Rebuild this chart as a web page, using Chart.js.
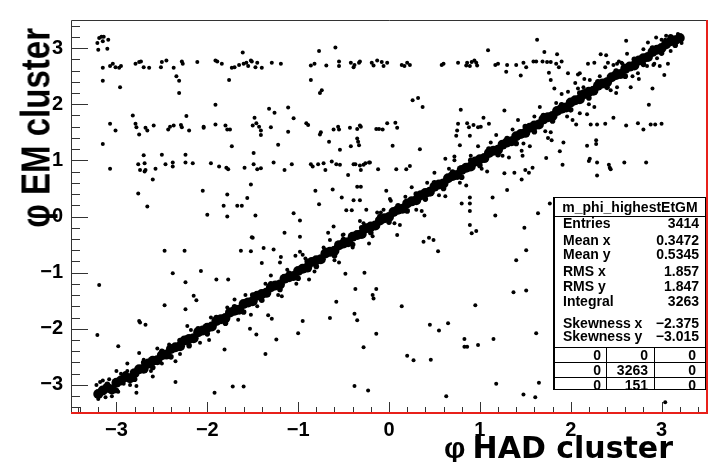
<!DOCTYPE html>
<html>
<head>
<meta charset="utf-8">
<script src="https://cdn.jsdelivr.net/npm/chart.js@4.4.0/dist/chart.umd.min.js"></script>
<style>
  html, body { margin: 0; padding: 0; background: #fff; }
  #wrap { position: relative; width: 712px; height: 462px; overflow: hidden; }
  #c { position: absolute; left: 0; top: 0; }
  .ttl { position: absolute; white-space: nowrap; color: #000; }
  #ytitle { left: 0; top: 0; width: 210px; text-align: right; font: bold 33px "Liberation Sans", Arial, sans-serif;
            line-height: 33px; transform-origin: 0 0; transform: translate(14px, 238px) rotate(-90deg) scaleY(1.25); }
  #xtitle { right: 39px; top: 433px; font: bold 30px "DejaVu Sans", sans-serif; line-height: 30px; }
  #xtitle .phi { font-family: "Liberation Sans", Arial, sans-serif; margin-right: 7px; }
  #stats { position: absolute; left: 553px; top: 197px; width: 150px; height: 191px; background: #fff;
           border: 1px solid #000; border-left-width: 2px; font: bold 14px "Liberation Sans", Arial, sans-serif; color: #000; }
  #stats div { position: absolute; height: 16px; line-height: 16px; white-space: nowrap; }
  #stats .hl { height: 0; border-top: 1px solid #000; left: 0; right: 0; }
  #stats .vl { width: 0; border-left: 1px solid #000; height: auto; }
</style>
</head>
<body>
<div id="wrap">
  <canvas id="c" width="712" height="462"></canvas>
  <div id="ytitle" class="ttl">φ EM cluster</div>
  <div id="xtitle" class="ttl"><span class="phi">φ</span>HAD cluster</div>
  <div id="stats"></div>
</div>
<script>
// axis ticks
const xTicks = [-3, -2, -1, 0, 1, 2, 3];
const yTicks = [-3, -2, -1, 0, 1, 2, 3];

// stats box contents
const statsTitle = 'm_phi_highestEtGM';
const statLabels = ['Entries', 'Mean x', 'Mean y', 'RMS x', 'RMS y', 'Integral', 'Skewness x', 'Skewness y'];
const statValues = ['3414', '0.3472', '0.5345', '1.857', '1.847', '3263', '\u22122.375', '\u22123.015'];
const statRowsY = [25, 42, 56, 73, 88, 103, 125, 138];
const tableRows = [['0', '0', '0'], ['0', '3263', '0'], ['0', '151', '0']];

// main diagonal band (phi_EM ~ phi_HAD)
const bandCore = [
  [-3.20,-3.16],[-3.15,-3.10],[-3.10,-3.05],[-3.05,-3.08],[-3.00,-2.96],[-2.95,-2.92],[-2.90,-2.86],[-2.85,-2.88],
  [-2.80,-2.79],[-2.75,-2.72],[-2.70,-2.71],[-2.65,-2.62],[-2.60,-2.57],[-2.55,-2.56],[-2.50,-2.47],[-2.45,-2.46],
  [-2.40,-2.36],[-2.35,-2.33],[-2.30,-2.31],[-2.25,-2.21],[-2.20,-2.18],[-2.15,-2.17],[-2.10,-2.06],[-2.05,-2.03],
  [-2.00,-1.98],[-1.95,-1.96],[-1.90,-1.86],[-1.85,-1.83],[-1.80,-1.81],[-1.75,-1.71],[-1.70,-1.68],[-1.65,-1.66],
  [-1.60,-1.56],[-1.55,-1.53],[-1.50,-1.51],[-1.45,-1.41],[-1.40,-1.38],[-1.35,-1.36],[-1.30,-1.26],[-1.25,-1.23],
  [-1.20,-1.21],[-1.15,-1.11],[-1.10,-1.08],[-1.05,-1.06],[-1.00,-0.97],[-0.95,-0.93],[-0.90,-0.91],[-0.85,-0.81],
  [-0.80,-0.78],[-0.75,-0.76],[-0.70,-0.66],[-0.65,-0.63],[-0.60,-0.61],[-0.55,-0.51],[-0.50,-0.48],[-0.45,-0.46],
  [-0.40,-0.36],[-0.35,-0.33],[-0.30,-0.31],[-0.25,-0.21],[-0.20,-0.18],[-0.15,-0.16],[-0.10,-0.07],[-0.05,-0.03],
  [0.00,-0.01],[0.05,0.08],[0.10,0.12],[0.15,0.14],[0.20,0.23],[0.25,0.27],[0.30,0.29],[0.35,0.38],
  [0.40,0.42],[0.45,0.44],[0.50,0.53],[0.55,0.57],[0.60,0.59],[0.65,0.68],[0.70,0.72],[0.75,0.74],
  [0.80,0.83],[0.85,0.87],[0.90,0.89],[0.95,0.98],[1.00,1.02],[1.05,1.04],[1.10,1.13],[1.15,1.17],
  [1.20,1.19],[1.25,1.28],[1.30,1.32],[1.35,1.34],[1.40,1.43],[1.45,1.47],[1.50,1.49],[1.55,1.58],
  [1.60,1.62],[1.65,1.64],[1.70,1.73],[1.75,1.77],[1.80,1.79],[1.85,1.88],[1.90,1.92],[1.95,1.94],
  [2.00,2.03],[2.05,2.07],[2.10,2.09],[2.15,2.18],[2.20,2.22],[2.25,2.24],[2.30,2.33],[2.35,2.37],
  [2.40,2.39],[2.45,2.48],[2.50,2.52],[2.55,2.54],[2.60,2.63],[2.65,2.67],[2.70,2.69],[2.75,2.78],
  [2.80,2.82],[2.85,2.84],[2.90,2.93],[2.95,2.97],[3.00,3.00],[3.05,3.07],[3.10,3.12],[3.15,3.14],[3.20,3.18]
];
const bandEdge = [
  [-3.10,-2.99],[-3.00,-3.10],[-2.90,-2.80],[-2.80,-2.90],[-2.70,-2.60],[-2.60,-2.69],[-2.50,-2.40],[-2.40,-2.50],
  [-2.30,-2.21],[-2.20,-2.30],[-2.10,-2.00],[-2.00,-2.09],[-1.90,-1.80],[-1.80,-1.90],[-1.70,-1.61],[-1.60,-1.70],
  [-1.50,-1.40],[-1.40,-1.49],[-1.30,-1.20],[-1.20,-1.30],[-1.10,-1.01],[-1.00,-1.10],[-0.90,-0.80],[-0.80,-0.89],
  [-0.70,-0.60],[-0.60,-0.70],[-0.50,-0.41],[-0.40,-0.50],[-0.30,-0.20],[-0.20,-0.29],[-0.10,0.00],[0.00,-0.10],
  [0.10,0.19],[0.20,0.10],[0.30,0.40],[0.40,0.31],[0.50,0.60],[0.60,0.50],[0.70,0.79],[0.80,0.70],
  [0.90,1.00],[1.00,0.91],[1.10,1.20],[1.20,1.10],[1.30,1.39],[1.40,1.30],[1.50,1.60],[1.60,1.51],
  [1.70,1.80],[1.80,1.70],[1.90,1.99],[2.00,1.90],[2.10,2.20],[2.20,2.11],[2.30,2.40],[2.40,2.30],
  [2.50,2.59],[2.60,2.50],[2.70,2.80],[2.80,2.71],[2.90,3.00],[3.00,2.91],[3.10,3.20],[3.15,3.05]
];
const bandFuzz = [
  [-3.22,-3.00],[-3.18,-2.95],[-3.12,-3.22],[-3.05,-3.20],[-2.98,-3.12],[-3.20,-3.25],[-2.92,-2.98],[-2.88,-2.75],
  [-3.08,-2.90],[-2.95,-2.80],[-2.85,-3.00],[-3.15,-2.92],[-2.70,-2.55],[-2.62,-2.75],[-2.50,-2.62],[-2.42,-2.28],
  [-2.30,-2.45],[-2.18,-2.02],[-2.08,-2.25],[-1.96,-1.80],[-1.88,-2.05],[-1.78,-1.62],[-1.66,-1.84],[-1.58,-1.40],
  [-1.45,-1.60],[-1.36,-1.20],[-1.22,-1.40],[-1.12,-0.95],[-1.02,-1.20],[-0.92,-0.75],[-0.82,-0.98],[-0.72,-0.55],
  [-0.60,-0.78],[-0.50,-0.32],[-0.40,-0.55],[-0.28,-0.12],[-0.18,-0.35],[-0.06,0.12],[0.06,-0.12],[0.18,0.35],
  [0.30,0.12],[0.42,0.60],[0.55,0.38],[0.66,0.85],[0.78,0.60],[0.90,1.08],[1.02,0.85],[1.12,1.32],
  [1.25,1.08],[1.36,1.55],[1.48,1.30],[1.60,1.78],[1.72,1.52],[1.84,2.02],[1.96,1.78],[2.08,2.28],
  [2.20,2.00],[2.32,2.50],[2.44,2.25],[2.56,2.74],[2.68,2.50],[2.80,2.98],[2.92,2.72],[3.05,3.22],
  [3.10,2.95],[3.18,3.25],[3.22,3.09],[3.00,3.15],[2.95,2.82],[2.94,3.19],[3.04,3.15],
  [-2.55,-2.35],[-2.35,-2.58],[-2.22,-1.95],[-1.98,-2.20],[-1.70,-1.48],[-1.52,-1.75],[-1.30,-1.05],[-1.18,-1.42],
  [-0.95,-0.68],[-0.88,-1.12],[-0.65,-0.42],[-0.55,-0.82],[-0.32,-0.08],[-0.22,-0.48],[0.02,0.28],[0.12,-0.15],
  [0.25,0.52],[0.36,0.10],[0.50,0.78],[0.62,0.36],[0.72,1.00],[0.85,0.55],[0.98,1.25],[1.08,0.80],
  [1.18,1.45],[1.32,1.05],[1.42,1.72],[1.55,1.25],[1.66,1.95],[1.78,1.50],[1.90,2.18],[2.02,1.72],
  [2.15,2.45],[2.26,1.95],[2.38,2.66],[2.50,2.20],[2.62,2.90],[2.75,2.45],[2.85,3.10],[2.98,2.68],
  [-2.88,-2.62],[-2.78,-3.02],[-3.00,-2.75],[-2.60,-2.85]
];

// horizontal row near phi_EM ~ 2.7 and other high points
const highPts = [
  [-3.19,3.18],[-3.165,3.20],[-3.14,3.20],[-3.21,3.09],[-3.15,3.12],[-3.09,3.15],[-3.20,2.97],[-3.10,2.99],
  [-3.15,2.65],[-3.07,2.68],[-3.04,2.72],[-3.01,2.66],[-2.97,2.65],[-2.95,2.68],[-2.79,2.72],[-2.75,2.75],
  [-2.73,2.76],[-2.70,2.66],[-2.64,2.65],[-2.51,2.66],[-2.50,2.75],[-2.45,2.78],[-2.37,2.65],[-2.28,2.76],
  [-2.27,2.72],[-2.11,2.75],[-1.91,2.78],[-1.89,2.76],[-1.84,2.72],[-1.73,2.65],[-1.70,2.66],[-1.65,2.70],
  [-1.60,2.72],[-1.57,2.74],[-1.55,2.68],[-1.52,2.78],[-1.51,2.76],[-1.47,2.66],[-1.45,2.74],[-1.40,2.65],
  [-1.29,2.74],[-1.19,2.72],[-0.86,2.69],[-0.82,2.72],[-0.69,2.69],[-0.55,2.76],[-0.55,2.68],[-0.42,2.74],
  [-0.39,2.66],[-0.38,2.70],[-0.33,2.74],[-0.32,2.76],[-0.19,2.74],[-0.17,2.69],[-0.13,2.78],
  [-3.15,2.42],[-2.96,2.30],[-2.34,2.50],[-2.31,2.42],[-2.31,2.20],[-1.76,2.43],[-1.61,2.92],[-0.77,2.95],
  [-0.59,3.01],[-0.86,2.43],[-0.76,2.20],[-0.74,2.25],
  [-0.08,2.75],[-0.02,2.74],[-0.06,2.68],[0.14,2.70],[0.17,2.68],[0.20,2.74],[0.23,2.70],[0.58,2.70],
  [0.60,2.72],[0.76,2.74],[0.85,2.69],[0.86,2.74],[0.89,2.68],[0.91,2.75],[0.94,2.78],[0.96,2.74],
  [0.97,2.69],[1.17,2.70],[1.20,2.72],[1.30,2.70],[1.29,2.58],[1.40,2.70],[1.45,2.51],[1.48,2.74],
  [1.51,2.66],[1.59,2.76],[1.62,2.76],[1.69,2.76],[1.74,2.75],[1.78,2.75],[1.84,2.72],[1.87,2.66],
  [1.90,2.76],[1.76,2.56],[1.78,2.43],[1.82,2.28],[1.97,2.55],[2.08,2.53],[2.19,2.72],[2.26,2.74],
  [2.33,2.89],[2.39,2.87],[2.41,2.74],[2.47,2.70],[2.51,2.72],[2.53,2.76],[2.57,2.72],[2.51,2.58],
  [2.74,2.55],[2.84,2.68],[2.91,2.70],[3.03,2.52],[3.07,2.72],[1.09,2.96],[1.63,3.15],[1.71,2.93],
  [1.85,2.89],[2.61,3.13],[0.26,2.07],[0.32,2.11],[0.37,1.95],[1.97,2.22],[2.05,2.38],[2.14,2.30],
  [2.21,2.43],[2.29,2.38],[2.10,2.55],[2.51,2.30],[2.66,2.30],[2.90,2.28],[2.86,1.99]
];

// row near phi_EM ~ 1.6
const midPts = [
  [-3.07,1.65],[-3.01,1.53],[-2.82,1.80],[-2.79,1.65],[-2.78,1.59],[-2.75,1.46],[-2.68,1.58],[-2.66,1.53],
  [-2.59,1.62],[-2.43,1.55],[-2.41,1.60],[-2.37,1.62],[-2.29,1.63],[-2.28,1.59],[-2.23,1.79],[-2.20,1.53],
  [-2.04,1.58],[-2.04,1.60],[-1.91,1.99],[-1.91,1.64],[-1.80,1.62],[-1.78,1.55],[-1.75,1.55],[-1.73,1.25],
  [-1.50,1.62],[-1.48,1.76],[-1.46,1.66],[-1.43,1.60],[-1.41,1.53],[-1.41,1.45],[-1.32,1.92],[-1.30,1.59],
  [-1.26,1.85],[-1.22,1.28],[-1.11,1.94],[-1.11,1.51],[-1.05,1.75],[-0.91,1.66],[-0.89,1.63],[-0.75,1.50],
  [-0.76,1.46],[-0.66,1.33],[-0.61,1.55],[-0.56,1.60],[-0.55,1.55],[-0.54,1.19],[-0.43,1.58],[-0.42,1.25],
  [-0.35,1.39],[-0.34,1.33],[-0.33,1.27],[-0.31,1.60],[-0.14,1.56],[-0.11,1.56],[-3.15,1.29],
  [-0.02,1.66],[0.07,1.67],[0.09,1.58],[-0.07,1.55],[0.04,1.26],[0.34,1.20],[-0.35,1.56],[-0.32,1.62],
  [0.79,1.90],[1.27,1.89],[1.04,1.76],[1.10,1.65],[0.76,1.65],[0.86,1.66],[0.88,1.59],[0.93,1.63],
  [0.98,1.59],[1.01,1.60],[0.75,1.53],[0.74,1.44],[0.78,1.27],[0.89,1.44],
  [2.22,1.64],[2.29,1.64],[2.38,1.65],[2.61,1.62],[2.74,1.66],[2.80,1.55],[2.88,1.64],[2.93,1.64],
  [3.00,1.65],[2.47,1.76],[2.28,1.36],[2.28,1.29],[2.18,1.26],[1.92,1.32],[1.79,1.36],[1.75,1.40],
  [2.06,1.64],[2.10,1.84],[2.18,1.82],[1.88,1.16],[1.73,1.04]
];

// row near phi_EM ~ 0.9
const lowPts = [
  [-3.07,0.85],[-2.76,0.93],[-2.74,0.83],[-2.70,1.09],[-2.69,0.95],[-2.68,0.83],[-2.69,0.80],[-2.60,0.66],
  [-2.57,0.85],[-2.50,1.10],[-2.46,0.93],[-2.38,0.96],[-2.38,0.89],[-2.24,1.10],[-2.24,0.96],[-2.16,0.95],
  [-1.96,0.95],[-1.87,0.89],[-1.79,0.87],[-1.77,0.84],[-1.59,0.87],[-1.49,1.13],[-1.49,0.93],[-1.45,0.84],
  [-1.41,0.86],[-1.27,0.96],[-1.15,0.83],[-1.07,0.93],[-0.86,0.93],[-0.84,0.89],[-0.78,0.93],[-0.72,0.95],
  [-0.70,0.83],[-0.63,0.98],[-0.58,0.93],[-0.54,0.92],[-0.45,0.74],[-0.39,0.93],[-0.37,0.93],[-0.32,0.91],
  [-0.31,0.83],[-0.28,0.92],[-0.22,0.96],[-0.12,0.84],[-0.26,0.95],[-0.21,0.96],
  [0.08,0.84],[0.19,0.84],[0.23,0.90],[0.62,1.03],[0.72,1.07],[1.27,0.77],[1.38,0.78],[1.46,0.66],
  [1.50,0.83],[1.54,0.78],[1.58,0.87],[1.47,1.08],[1.46,1.17],
  [2.21,1.03],[2.29,0.96],[2.42,0.92],[2.43,0.87],[2.59,0.96],[2.83,0.96],[2.29,0.73],[1.91,0.92],
  [2.20,0.99],[2.44,0.84]
];

// remaining scattered entries
const otherPts = [
  [-2.76,0.41],[-2.05,0.46],[-1.78,0.39],[-1.52,0.57],[-1.56,0.33],[-1.82,0.19],[-1.67,0.19],[-1.62,0.19],
  [-0.81,0.46],[-0.62,0.48],[-0.52,0.34],[-0.77,0.22],[-0.39,0.29],[-0.32,0.29],[-0.35,0.53],[-0.31,0.53],
  [-2.66,0.18],[-2.00,0.03],[-1.78,0.00],[-1.47,0.02],[-1.05,0.06],[-0.98,-0.07],[-1.15,-0.29],[-1.51,-0.37],
  [-0.98,-0.36],[-1.63,-0.61],[-1.52,-0.62],[-1.38,-0.56],[-1.27,-0.59],[-1.19,-0.72],[-1.20,-0.82],[-1.40,-0.83],
  [-0.98,-0.63],[-1.03,-0.70],[-2.47,-0.61],[-2.25,-0.61],[-0.67,-0.29],[-0.61,-0.18],[-0.51,-0.33],[-0.47,0.11],
  [-0.41,0.11],[-0.25,0.12],[-0.13,0.07],[-0.09,0.07],
  [-3.19,-1.22],[-3.21,-2.11],[-2.98,-2.31],[-2.38,-1.01],[-2.24,-1.17],[-2.47,-1.58],[-2.15,-1.41],[-2.12,-1.49],
  [-2.24,-1.65],[-2.75,-1.86],[-2.74,-1.89],[-2.68,-1.93],[-2.75,-2.43],[-2.35,-2.95],[-2.78,-3.14],[-1.92,-3.14],
  [-1.72,-3.03],[-1.60,-3.03],[-2.07,-0.97],[-1.90,-1.12],[-1.77,-1.12],[-1.50,-0.38],
  [-1.81,-2.37],[-1.53,-2.00],[-1.46,-2.10],[-1.36,-2.45],[-1.24,-2.19],[-1.33,-1.76],[-1.29,-1.82],[-1.00,-2.08],
  [-0.95,-1.86],[-0.65,-1.81],[-0.58,-1.52],[-0.48,-1.02],[-0.27,-1.00],[-0.37,-1.29],[-0.18,-1.40],[-0.17,-1.46],
  [-0.14,-1.29],[-0.38,-1.73],[-0.35,-1.85],[-0.28,-2.33],[-0.14,-2.09],[-0.38,-3.02],[-0.23,-3.10],[0.14,-1.60],
  [0.20,-2.48],[0.27,-2.56],[0.46,-2.55],[0.45,-1.93],[0.55,-2.03],[0.65,-1.90],[0.63,-3.20],[0.38,-0.45],
  [0.44,-0.38],[0.49,-0.42],[0.54,-0.62],[0.39,0.02],[0.89,-0.15],[0.91,-0.30],[0.96,-0.26],[0.95,-1.58],
  [0.83,-2.18],[0.83,-2.32],[0.86,-2.32],[0.98,-2.29],[1.15,-2.18],[1.18,-2.98],[1.48,-3.17],[1.37,-1.35],
  [1.51,-1.32],[1.40,-0.78],[1.49,-0.20],[1.51,-0.60],[1.17,0.02],[1.61,-3.22],[1.62,-2.08],
  [0.09,-0.33],[0.89,0.10],[0.89,0.23],[0.89,0.34],[1.14,0.34],[1.64,0.06],[1.77,0.23],[-0.03,0.46],
  [0.01,0.31],[0.80,0.23],[1.30,0.47],[3.04,-3.31],[1.65,-2.96]
];

const toXY = arr => arr.map(p => ({ x: p[0], y: p[1] }));
const dot = (data, r) => ({ data: toXY(data), pointRadius: r, pointBackgroundColor: '#000',
  pointBorderWidth: 0, showLine: false });

const minus = v => String(v).replace('-', '\u2212');

// inward ticks and frame, ROOT style
const rootFrame = {
  id: 'rootFrame',
  afterDraw(chart) {
    const { ctx, chartArea: a, scales: { x, y } } = chart;
    ctx.save();
    ctx.lineWidth = 1;
    ctx.strokeStyle = '#333';
    ctx.beginPath();
    for (let i = -17; i <= 17; i++) {
      const v = i / 5;
      const major = i % 5 === 0;
      const px = Math.round(x.getPixelForValue(v)) + 0.5;
      ctx.moveTo(px, a.bottom);
      ctx.lineTo(px, a.bottom - (major ? 11 : 6));
      const py = Math.round(y.getPixelForValue(v)) + 0.5;
      ctx.moveTo(a.left, py);
      ctx.lineTo(a.left + (major ? 17 : 9), py);
    }
    // top and left frame
    ctx.moveTo(a.left + 0.5, a.bottom);
    ctx.lineTo(a.left + 0.5, a.top + 0.5);
    ctx.lineTo(a.right, a.top + 0.5);
    ctx.stroke();
    ctx.strokeRect(a.left + 0.5, a.bottom - 5.5, 7, 5);
    // red bottom and right
    ctx.strokeStyle = '#e8201a';
    ctx.lineWidth = 2;
    ctx.beginPath();
    ctx.moveTo(a.left, a.bottom);
    ctx.lineTo(a.right, a.bottom);
    ctx.lineTo(a.right, a.top);
    ctx.stroke();
    ctx.restore();
  }
};

const tickFont = { family: '"Liberation Sans", Arial, sans-serif', size: 20, weight: 'bold' };

new Chart(document.getElementById('c'), {
  type: 'scatter',
  data: {
    datasets: [dot(bandCore, 5), dot(bandEdge, 2.8), dot(bandFuzz, 2), dot(highPts, 2), dot(midPts, 2),
      dot(lowPts, 2), dot(otherPts, 2)]
  },
  options: {
    responsive: false,
    animation: false,
    events: [],
    layout: { padding: { left: 0, top: 7, right: 5, bottom: 0 } },
    plugins: { legend: { display: false }, tooltip: { enabled: false } },
    scales: {
      x: {
        type: 'linear', min: -3.5, max: 3.5,
        afterBuildTicks: s => { s.ticks = xTicks.map(v => ({ value: v })); },
        afterFit: s => { s.height = 49; },
        grid: { display: false, drawTicks: false },
        border: { display: false },
        ticks: { autoSkip: false, maxRotation: 0, padding: 5, color: '#000', font: tickFont, callback: minus }
      },
      y: {
        type: 'linear', min: -3.5, max: 3.5,
        afterBuildTicks: s => { s.ticks = yTicks.map(v => ({ value: v })); },
        afterFit: s => { s.width = 71; },
        grid: { display: false, drawTicks: false },
        border: { display: false },
        ticks: { autoSkip: false, padding: 8, color: '#000', font: tickFont, callback: minus }
      }
    }
  },
  plugins: [rootFrame]
});

// stats box
const st = document.getElementById('stats');
const add = (html, css) => { const d = document.createElement('div'); d.innerHTML = html; d.style.cssText = css; st.appendChild(d); return d; };
add(statsTitle, 'left:0;right:0;top:1px;text-align:center;');
add('', 'top:18px;').className = 'hl';
statLabels.forEach((l, i) => {
  add(l, `left:8px;top:${statRowsY[i] - 8}px;`);
  add(statValues[i], `right:6px;top:${statRowsY[i] - 8}px;text-align:right;`);
});
const rowTops = [149, 164, 179];
rowTops.forEach(t => { add('', `top:${t}px;`).className = 'hl'; });
[51, 99].forEach(l => { const d = add('', `left:${l}px;top:149px;bottom:0;`); d.className = 'vl'; });
const cellRight = [104, 57, 9];
tableRows.forEach((row, r) => {
  row.forEach((txt, c) => add(txt, `right:${cellRight[c]}px;top:${rowTops[r]}px;text-align:right;`));
});
</script>
</body>
</html>
